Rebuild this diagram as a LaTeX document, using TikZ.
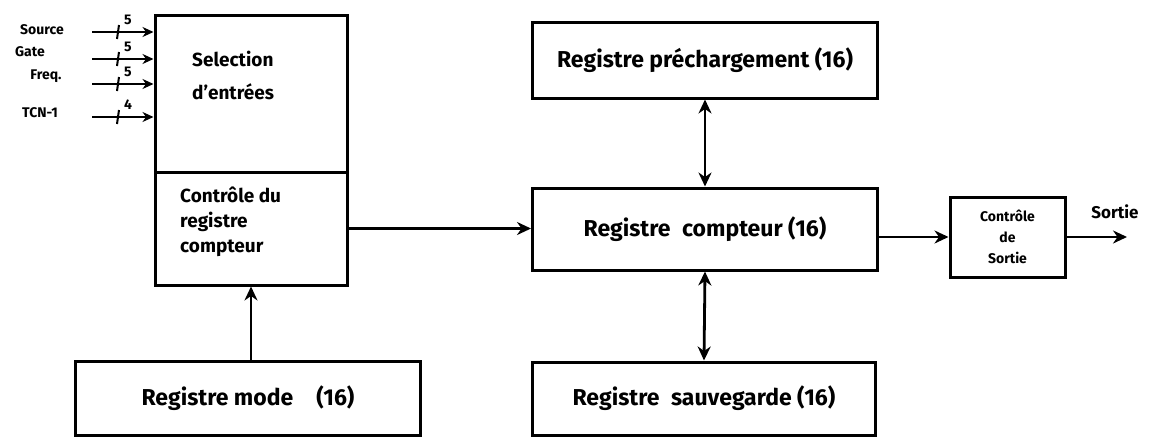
\documentclass[tikz,border=0pt]{standalone}
\usepackage{fontspec}
\setmainfont{Fira Sans}
\usetikzlibrary{arrows.meta}
\begin{document}
\begin{tikzpicture}[x=1pt,y=-1pt,
  box/.style={draw,line width=3pt,inner sep=0pt},
  arr/.style={line width=2.8pt,-{Stealth[length=14pt,width=13pt]}},
  darr/.style={line width=2.8pt,{Stealth[length=14pt,width=13pt]}-{Stealth[length=14pt,width=13pt]}},
  reg/.style={font=\bfseries\fontsize{23}{27}\selectfont},
  mid/.style={font=\bfseries\fontsize{19}{25}\selectfont,align=left,inner sep=0pt},
  small/.style={font=\bfseries\fontsize{14}{21}\selectfont,align=center,inner sep=0pt},
  inlbl/.style={font=\bfseries\fontsize{14}{15}\selectfont,inner sep=0pt},
  num/.style={font=\bfseries\fontsize{14}{15}\selectfont,inner sep=0pt},
  tick/.style={line width=2pt}
]
\useasboundingbox (0,0) rectangle (1167,439);

% main left block
\node[box,minimum width=192pt,minimum height=157pt] (sel) at (251,93.5) {};
\node[box,minimum width=192pt,minimum height=113pt] (ctrl) at (251,228.5) {};
\node[mid,anchor=west] (seltxt) at (192,75) {Selection\\[8pt]d'entrées};
\node[mid,anchor=west] (ctrltxt) at (180,222) {Contrôle du\\registre\\compteur};

% registers
\node[box,reg,minimum width=345pt,minimum height=74pt] (mode) at (248,398) {Registre mode\quad(16)};
\node[box,reg,minimum width=345pt,minimum height=76pt] (pre) at (705,60) {Registre préchargement (16)};
\node[box,reg,minimum width=345pt,minimum height=82pt] (cpt) at (705,229) {Registre\enspace compteur (16)};
\node[box,reg,minimum width=343pt,minimum height=73pt] (sauv) at (704,398.5) {Registre\enspace sauvegarde (16)};
\node[box,small,minimum width=115pt,minimum height=80pt] (sortbox) at (1007.5,237) {Contrôle\\de\\Sortie};

% inputs
\node[inlbl] (lsrc) at (42,30) {Source};
\node[inlbl] (lgate) at (30,52) {Gate};
\node[inlbl] (lfreq) at (46,76) {Freq.};
\node[inlbl] (ltc) at (40,113) {TCN-1};
\coordinate (i1) at (92,32);
\coordinate (i2) at (92,59);
\coordinate (i3) at (92,84);
\coordinate (i4) at (92,117);
\foreach \c/\n in {i1/5,i2/5,i3/5,i4/4}{
  \draw[line width=2pt,-{Stealth[length=11pt,width=10pt]}] (\c) -- (\c -| sel.west);
  \draw[tick] ([xshift=25pt,yshift=-7pt]\c) -- ([xshift=27pt,yshift=7pt]\c);
  \node[num] (n\c) at ([xshift=36pt,yshift=12pt]\c) {\n};
}

% connectors
\draw[arr] (mode.north -| ctrl.south) -- (ctrl.south);
\draw[arr] (ctrl.east) -- (ctrl.east -| cpt.west);
\draw[darr] (pre.south) -- (cpt.north);
\draw[darr] (cpt.south) -- (sauv.north);
\draw[arr] (cpt.east |- sortbox.west) -- (sortbox.west);
\coordinate (out) at (1127,237);
\draw[arr] (sortbox.east) -- (out);
\node[font=\bfseries\fontsize{17}{19}\selectfont,inner sep=0pt] (sortlbl) at (1115,212) {Sortie};
\end{tikzpicture}
\end{document}
